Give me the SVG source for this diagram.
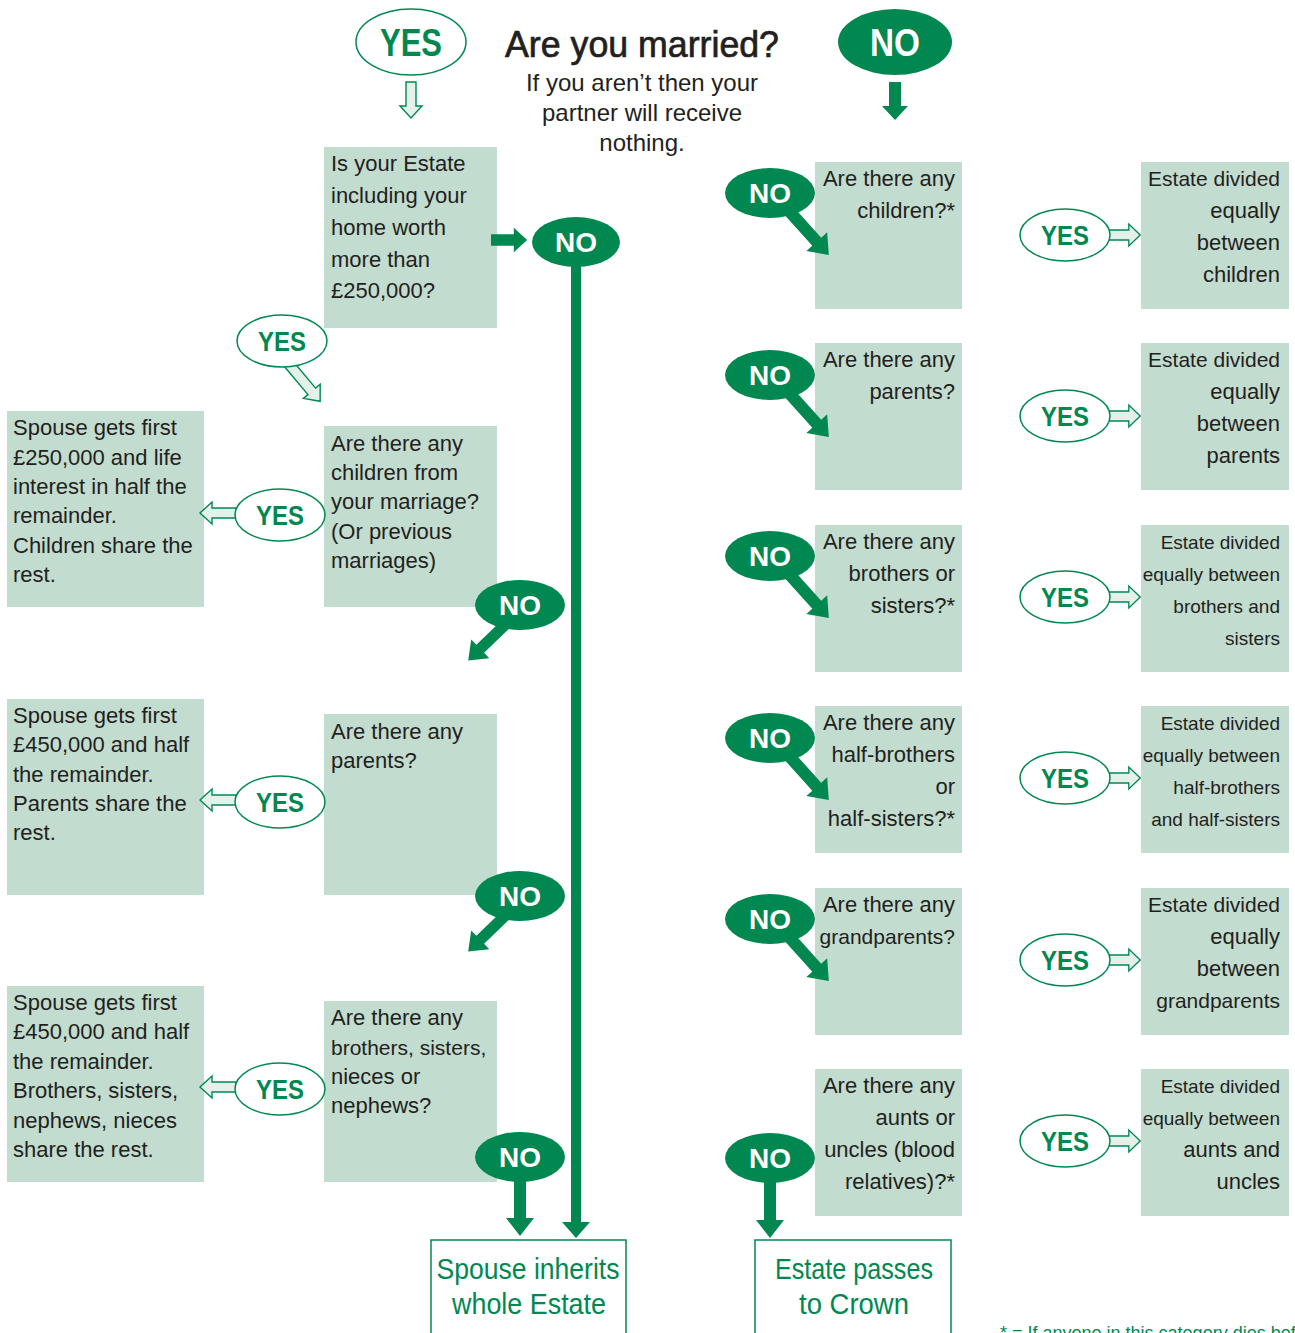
<svg xmlns="http://www.w3.org/2000/svg" xmlns:xlink="http://www.w3.org/1999/xlink" width="1295" height="1333" viewBox="0 0 1295 1333">
<style>
.box{fill:#c2dccf}
.t{font-family:"Liberation Sans",Arial,sans-serif;font-size:22px;fill:#231f20}
.r{text-anchor:end}
.c{font-size:19px}
.m{font-size:21px}
.no{fill:#008850}
.not{font-family:"Liberation Sans",Arial,sans-serif;font-weight:bold;font-size:28px;fill:#fff;text-anchor:middle}
.yes{fill:#fff;stroke:#008850;stroke-width:1.5}
.yest{font-family:"Liberation Sans",Arial,sans-serif;font-weight:bold;font-size:28px;fill:#008850;text-anchor:middle}
.sa{fill:#008850}
.ha{fill:#e4f0ea;stroke:#008850;stroke-width:1.4}
.end{fill:#fff;stroke:#008850;stroke-width:1.5}
.endt{font-family:"Liberation Sans",Arial,sans-serif;font-size:30px;fill:#008850;text-anchor:middle}
</style>
<defs>
<path id="h36" d="M0,-5 L24,-5 L24,-11 L36,0 L24,11 L24,5 L0,5 Z"/>
<path id="h50" d="M0,-5 L37,-5 L37,-11 L50,0 L37,11 L37,5 L0,5 Z"/>
<path id="s58" d="M0,-6 L40,-6 L40,-14 L58,0 L40,14 L40,6 L0,6 Z"/>
<path id="s38" d="M0,-6 L24,-6 L24,-13 L38,0 L24,13 L24,6 L0,6 Z"/>
</defs>

<g id="title">
<text x="642" y="57" style="font-family:'Liberation Sans',Arial,sans-serif;font-size:36px;fill:#231f20;stroke:#231f20;stroke-width:0.7;text-anchor:middle" textLength="274" lengthAdjust="spacingAndGlyphs">Are you married?</text>
<text x="642" y="91" class="t" style="font-size:24px;text-anchor:middle">If you aren’t then your</text>
<text x="642" y="121" class="t" style="font-size:24px;text-anchor:middle">partner will receive</text>
<text x="642" y="151" class="t" style="font-size:24px;text-anchor:middle">nothing.</text>
</g>

<g id="yes-top"><ellipse class="yes" cx="411" cy="42" rx="55" ry="33"/><text class="yest" x="411" y="56" style="font-size:38px" textLength="62" lengthAdjust="spacingAndGlyphs">YES</text></g>
<g id="no-top"><ellipse class="no" cx="895" cy="42" rx="57" ry="33"/><text class="not" x="895" y="56" style="font-size:38px" textLength="50" lengthAdjust="spacingAndGlyphs">NO</text></g>

<g id="q1"><rect class="box" x="324" y="147" width="173" height="181"/>
<text class="t" x="331" y="171">Is your Estate</text><text class="t" x="331" y="203">including your</text><text class="t" x="331" y="235">home worth</text><text class="t" x="331" y="267">more than</text><text class="t" x="331" y="298">£250,000?</text></g>

<g id="q2"><rect class="box" x="324" y="426" width="173" height="181"/>
<text class="t" x="331" y="451">Are there any</text><text class="t" x="331" y="480">children from</text><text class="t" x="331" y="509">your marriage?</text><text class="t" x="331" y="539">(Or previous</text><text class="t" x="331" y="568">marriages)</text></g>

<g id="q3"><rect class="box" x="324" y="714" width="173" height="181"/>
<text class="t" x="331" y="739">Are there any</text><text class="t" x="331" y="768">parents?</text></g>

<g id="q4"><rect class="box" x="324" y="1001" width="173" height="181"/>
<text class="t" x="331" y="1025">Are there any</text><text class="t m" x="331" y="1055">brothers, sisters,</text><text class="t" x="331" y="1084">nieces or</text><text class="t" x="331" y="1113">nephews?</text></g>

<g id="a1"><rect class="box" x="7" y="411" width="197" height="196"/>
<text class="t" x="13" y="435">Spouse gets first</text><text class="t" x="13" y="465">£250,000 and life</text><text class="t" x="13" y="494">interest in half the</text><text class="t" x="13" y="523">remainder.</text><text class="t" x="13" y="553">Children share the</text><text class="t" x="13" y="582">rest.</text></g>

<g id="a2"><rect class="box" x="7" y="699" width="197" height="196"/>
<text class="t" x="13" y="723">Spouse gets first</text><text class="t" x="13" y="752">£450,000 and half</text><text class="t" x="13" y="782">the remainder.</text><text class="t" x="13" y="811">Parents share the</text><text class="t" x="13" y="840">rest.</text></g>

<g id="a3"><rect class="box" x="7" y="986" width="197" height="196"/>
<text class="t" x="13" y="1010">Spouse gets first</text><text class="t" x="13" y="1039">£450,000 and half</text><text class="t" x="13" y="1069">the remainder.</text><text class="t" x="13" y="1098">Brothers, sisters,</text><text class="t" x="13" y="1128">nephews, nieces</text><text class="t" x="13" y="1157">share the rest.</text></g>

<g id="end1"><rect class="end" x="431" y="1240" width="195" height="110"/>
<text class="endt" x="528" y="1279" textLength="183" lengthAdjust="spacingAndGlyphs">Spouse inherits</text><text class="endt" x="529" y="1314" textLength="154" lengthAdjust="spacingAndGlyphs">whole Estate</text></g>
<g id="end2"><rect class="end" x="755" y="1240" width="196" height="110"/>
<text class="endt" x="854" y="1279" textLength="158" lengthAdjust="spacingAndGlyphs">Estate passes</text><text class="endt" x="854" y="1314" textLength="110" lengthAdjust="spacingAndGlyphs">to Crown</text></g>

<g id="rq1"><rect class="box" x="815" y="162" width="147" height="147"/><text class="t r" x="955" y="186">Are there any</text><text class="t r" x="955" y="218">children?*</text></g>
<g id="rq2"><rect class="box" x="815" y="343" width="147" height="147"/><text class="t r" x="955" y="367">Are there any</text><text class="t r" x="955" y="399">parents?</text></g>
<g id="rq3"><rect class="box" x="815" y="525" width="147" height="147"/><text class="t r" x="955" y="549">Are there any</text><text class="t r" x="955" y="581">brothers or</text><text class="t r" x="955" y="613">sisters?*</text></g>
<g id="rq4"><rect class="box" x="815" y="706" width="147" height="147"/><text class="t r" x="955" y="730">Are there any</text><text class="t r" x="955" y="762">half-brothers</text><text class="t r" x="955" y="794">or</text><text class="t r" x="955" y="826">half-sisters?*</text></g>
<g id="rq5"><rect class="box" x="815" y="888" width="147" height="147"/><text class="t r" x="955" y="912">Are there any</text><text class="t r m" x="955" y="944">grandparents?</text></g>
<g id="rq6"><rect class="box" x="815" y="1069" width="147" height="147"/><text class="t r" x="955" y="1093">Are there any</text><text class="t r" x="955" y="1125">aunts or</text><text class="t r" x="955" y="1157">uncles (blood</text><text class="t r" x="955" y="1189">relatives)?*</text></g>

<g id="ra1"><rect class="box" x="1141" y="162" width="148" height="147"/><text class="t r m" x="1280" y="186">Estate divided</text><text class="t r" x="1280" y="218">equally</text><text class="t r" x="1280" y="250">between</text><text class="t r" x="1280" y="282">children</text></g>
<g id="ra2"><rect class="box" x="1141" y="343" width="148" height="147"/><text class="t r m" x="1280" y="367">Estate divided</text><text class="t r" x="1280" y="399">equally</text><text class="t r" x="1280" y="431">between</text><text class="t r" x="1280" y="463">parents</text></g>
<g id="ra3"><rect class="box" x="1141" y="525" width="148" height="147"/><text class="t r c" x="1280" y="549">Estate divided</text><text class="t r c" x="1280" y="581">equally between</text><text class="t r c" x="1280" y="613">brothers and</text><text class="t r c" x="1280" y="645">sisters</text></g>
<g id="ra4"><rect class="box" x="1141" y="706" width="148" height="147"/><text class="t r c" x="1280" y="730">Estate divided</text><text class="t r c" x="1280" y="762">equally between</text><text class="t r c" x="1280" y="794">half-brothers</text><text class="t r c" x="1280" y="826">and half-sisters</text></g>
<g id="ra5"><rect class="box" x="1141" y="888" width="148" height="147"/><text class="t r m" x="1280" y="912">Estate divided</text><text class="t r" x="1280" y="944">equally</text><text class="t r" x="1280" y="976">between</text><text class="t r m" x="1280" y="1008">grandparents</text></g>
<g id="ra6"><rect class="box" x="1141" y="1069" width="148" height="147"/><text class="t r c" x="1280" y="1093">Estate divided</text><text class="t r c" x="1280" y="1125">equally between</text><text class="t r" x="1280" y="1157">aunts and</text><text class="t r" x="1280" y="1189">uncles</text></g>

<g id="connectors">
<use xlink:href="#h36" class="ha" transform="translate(411,82) rotate(90)"/>
<use xlink:href="#s38" class="sa" transform="translate(895,82) rotate(90)"/>
<use xlink:href="#s38" class="sa" transform="translate(491,240) scale(0.95)"/>
<rect class="sa" x="571" y="262" width="10" height="962"/>
<path class="sa" d="M562,1222 L590,1222 L576,1238 Z"/>
<use xlink:href="#h50" class="ha" transform="translate(288,363) rotate(50)"/>
<use xlink:href="#h36" class="ha" transform="translate(236,513) rotate(180)"/>
<use xlink:href="#h36" class="ha" transform="translate(236,800) rotate(180)"/>
<use xlink:href="#h36" class="ha" transform="translate(236,1087) rotate(180)"/>
<use xlink:href="#s58" class="sa" transform="translate(507,623) rotate(136) scale(0.93)"/>
<use xlink:href="#s58" class="sa" transform="translate(507,914) rotate(136) scale(0.93)"/>
<use xlink:href="#s58" class="sa" transform="translate(520,1178) rotate(90)"/>
<use xlink:href="#s58" class="sa" transform="translate(770,1180) rotate(90)"/>
<use xlink:href="#s58" class="sa" transform="translate(790,212) rotate(48)"/>
<use xlink:href="#s58" class="sa" transform="translate(790,394) rotate(48)"/>
<use xlink:href="#s58" class="sa" transform="translate(790,575) rotate(48)"/>
<use xlink:href="#s58" class="sa" transform="translate(790,757) rotate(48)"/>
<use xlink:href="#s58" class="sa" transform="translate(790,938) rotate(48)"/>
<use xlink:href="#h36" class="ha" transform="translate(1106,235) scale(0.95,1)"/>
<use xlink:href="#h36" class="ha" transform="translate(1106,416) scale(0.95,1)"/>
<use xlink:href="#h36" class="ha" transform="translate(1106,597) scale(0.95,1)"/>
<use xlink:href="#h36" class="ha" transform="translate(1106,778) scale(0.95,1)"/>
<use xlink:href="#h36" class="ha" transform="translate(1106,960) scale(0.95,1)"/>
<use xlink:href="#h36" class="ha" transform="translate(1106,1141) scale(0.95,1)"/>
</g>

<g id="no-labels">
<g id="no1"><ellipse class="no" cx="576" cy="242" rx="44" ry="25"/><text class="not" x="576" y="252">NO</text></g>
<g id="no2"><ellipse class="no" cx="520" cy="605" rx="45" ry="25"/><text class="not" x="520" y="615">NO</text></g>
<g id="no3"><ellipse class="no" cx="520" cy="896" rx="45" ry="25"/><text class="not" x="520" y="906">NO</text></g>
<g id="no4"><ellipse class="no" cx="520" cy="1157" rx="45" ry="25"/><text class="not" x="520" y="1167">NO</text></g>
<g id="rno1"><ellipse class="no" cx="770" cy="193" rx="45" ry="25"/><text class="not" x="770" y="203">NO</text></g>
<g id="rno2"><ellipse class="no" cx="770" cy="375" rx="45" ry="25"/><text class="not" x="770" y="385">NO</text></g>
<g id="rno3"><ellipse class="no" cx="770" cy="556" rx="45" ry="25"/><text class="not" x="770" y="566">NO</text></g>
<g id="rno4"><ellipse class="no" cx="770" cy="738" rx="45" ry="25"/><text class="not" x="770" y="748">NO</text></g>
<g id="rno5"><ellipse class="no" cx="770" cy="919" rx="45" ry="25"/><text class="not" x="770" y="929">NO</text></g>
<g id="rno6"><ellipse class="no" cx="770" cy="1158" rx="45" ry="25"/><text class="not" x="770" y="1168">NO</text></g>
</g>

<g id="yes-labels">
<g id="y1"><ellipse class="yes" cx="282" cy="341" rx="45" ry="26"/><text class="yest" x="282" y="351" textLength="48" lengthAdjust="spacingAndGlyphs">YES</text></g>
<g id="y2"><ellipse class="yes" cx="280" cy="515" rx="45" ry="26"/><text class="yest" x="280" y="525" textLength="48" lengthAdjust="spacingAndGlyphs">YES</text></g>
<g id="y3"><ellipse class="yes" cx="280" cy="802" rx="45" ry="26"/><text class="yest" x="280" y="812" textLength="48" lengthAdjust="spacingAndGlyphs">YES</text></g>
<g id="y4"><ellipse class="yes" cx="280" cy="1089" rx="45" ry="26"/><text class="yest" x="280" y="1099" textLength="48" lengthAdjust="spacingAndGlyphs">YES</text></g>
<g id="ry1"><ellipse class="yes" cx="1065" cy="235" rx="45" ry="26"/><text class="yest" x="1065" y="245" textLength="48" lengthAdjust="spacingAndGlyphs">YES</text></g>
<g id="ry2"><ellipse class="yes" cx="1065" cy="416" rx="45" ry="26"/><text class="yest" x="1065" y="426" textLength="48" lengthAdjust="spacingAndGlyphs">YES</text></g>
<g id="ry3"><ellipse class="yes" cx="1065" cy="597" rx="45" ry="26"/><text class="yest" x="1065" y="607" textLength="48" lengthAdjust="spacingAndGlyphs">YES</text></g>
<g id="ry4"><ellipse class="yes" cx="1065" cy="778" rx="45" ry="26"/><text class="yest" x="1065" y="788" textLength="48" lengthAdjust="spacingAndGlyphs">YES</text></g>
<g id="ry5"><ellipse class="yes" cx="1065" cy="960" rx="45" ry="26"/><text class="yest" x="1065" y="970" textLength="48" lengthAdjust="spacingAndGlyphs">YES</text></g>
<g id="ry6"><ellipse class="yes" cx="1065" cy="1141" rx="45" ry="26"/><text class="yest" x="1065" y="1151" textLength="48" lengthAdjust="spacingAndGlyphs">YES</text></g>
</g>

<text id="footnote" x="1000" y="1339" style="font-family:'Liberation Sans',Arial,sans-serif;font-size:18px;fill:#008850">* = If anyone in this category dies before</text>
</svg>
